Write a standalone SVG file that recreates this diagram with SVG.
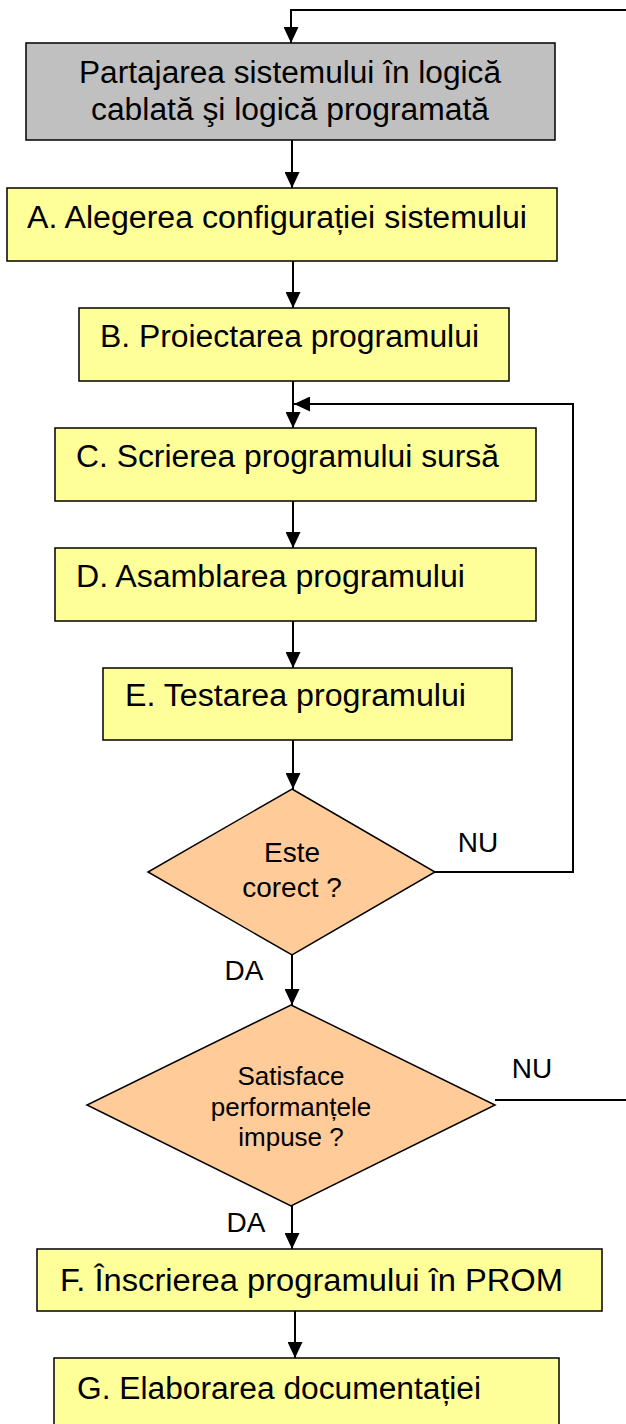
<svg xmlns="http://www.w3.org/2000/svg" width="626" height="1424" viewBox="0 0 626 1424">
<style>
.box{fill:#FFFF99;stroke:#000;stroke-width:1.5}
.gray{fill:#C0C0C0;stroke:#000;stroke-width:1.5}
.dia{fill:#FFCC99;stroke:#000;stroke-width:1.5}
.t{font-family:"Liberation Sans",Arial,sans-serif;font-size:31px;fill:#000}
.tm{font-family:"Liberation Sans",Arial,sans-serif;font-size:31px;fill:#000;text-anchor:middle}
.d{font-family:"Liberation Sans",Arial,sans-serif;font-size:28px;fill:#000;text-anchor:middle}
.d2{font-family:"Liberation Sans",Arial,sans-serif;font-size:26px;fill:#000;text-anchor:middle}
.c{fill:none;stroke:#000;stroke-width:2}
</style>
<defs>
<marker id="ah" markerUnits="userSpaceOnUse" markerWidth="16" markerHeight="15" viewBox="0 0 16 15" refX="16" refY="7.5" orient="auto">
<path d="M0,0 L16,7.5 L0,15 Z" fill="#000"/>
</marker>
</defs>
<g id="connectors">
<polyline class="c" points="626,10 291,10 291,43" marker-end="url(#ah)"/>
<line class="c" x1="292" y1="140" x2="292" y2="188" marker-end="url(#ah)"/>
<line class="c" x1="293" y1="261" x2="293" y2="308" marker-end="url(#ah)"/>
<line class="c" x1="293" y1="381" x2="293" y2="428" marker-end="url(#ah)"/>
<polyline class="c" points="435,872 573,872 573,404 294,404" marker-end="url(#ah)"/>
<line class="c" x1="293" y1="501" x2="293" y2="548" marker-end="url(#ah)"/>
<line class="c" x1="293" y1="621" x2="293" y2="668" marker-end="url(#ah)"/>
<line class="c" x1="293" y1="740" x2="293" y2="789" marker-end="url(#ah)"/>
<line class="c" x1="292" y1="955" x2="292" y2="1005" marker-end="url(#ah)"/>
<line class="c" x1="495" y1="1100" x2="626" y2="1100"/>
<line class="c" x1="292" y1="1206" x2="292" y2="1249" marker-end="url(#ah)"/>
<line class="c" x1="295" y1="1311" x2="295" y2="1358" marker-end="url(#ah)"/>
</g>
<g id="partajare">
<rect class="gray" x="26" y="43" width="529" height="97"/>
<text class="tm" x="290" y="83" textLength="422" lengthAdjust="spacingAndGlyphs">Partajarea sistemului în logică</text>
<text class="tm" x="290" y="120" textLength="398" lengthAdjust="spacingAndGlyphs">cablată şi logică programată</text>
</g>
<g id="A">
<rect class="box" x="7" y="188" width="550" height="73"/>
<text class="t" x="27" y="228" textLength="500" lengthAdjust="spacingAndGlyphs">A. Alegerea configurației sistemului</text>
</g>
<g id="B">
<rect class="box" x="79" y="308" width="430" height="73"/>
<text class="t" x="100" y="347" textLength="379" lengthAdjust="spacingAndGlyphs">B. Proiectarea programului</text>
</g>
<g id="C">
<rect class="box" x="55" y="428" width="481" height="73"/>
<text class="t" x="76" y="467" textLength="423" lengthAdjust="spacingAndGlyphs">C. Scrierea programului sursă</text>
</g>
<g id="D">
<rect class="box" x="55" y="548" width="481" height="73"/>
<text class="t" x="76" y="587" textLength="389" lengthAdjust="spacingAndGlyphs">D. Asamblarea programului</text>
</g>
<g id="E">
<rect class="box" x="103" y="668" width="409" height="72"/>
<text class="t" x="125" y="706" textLength="341" lengthAdjust="spacingAndGlyphs">E. Testarea programului</text>
</g>
<g id="decizie1">
<polygon class="dia" points="292,789 435,872 292,955 148,872"/>
<text class="d" x="292" y="862">Este</text>
<text class="d" x="292" y="897">corect ?</text>
</g>
<g id="decizie2">
<polygon class="dia" points="291,1005 495,1105 291,1206 87,1105"/>
<text class="d2" x="291" y="1085">Satisface</text>
<text class="d2" x="291" y="1116">performanțele</text>
<text class="d2" x="291" y="1146">impuse ?</text>
</g>
<g id="labels">
<text class="d" x="478" y="852">NU</text>
<text class="d" x="532" y="1078">NU</text>
<text class="d" x="244" y="980">DA</text>
<text class="d" x="246" y="1232">DA</text>
</g>
<g id="F">
<rect class="box" x="37" y="1249" width="565" height="62"/>
<text class="t" x="60" y="1291" textLength="503" lengthAdjust="spacingAndGlyphs">F. Înscrierea programului  în PROM</text>
</g>
<g id="G">
<rect class="box" x="54" y="1358" width="505" height="80"/>
<text class="t" x="77" y="1399" textLength="404" lengthAdjust="spacingAndGlyphs">G. Elaborarea documentației</text>
</g>
</svg>
